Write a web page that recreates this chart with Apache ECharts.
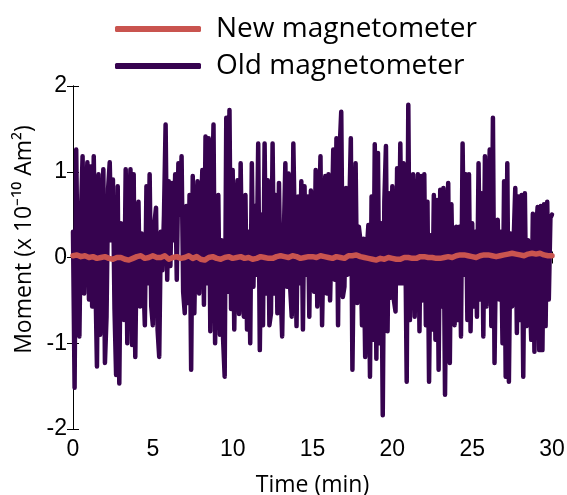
<!DOCTYPE html>
<html>
<head>
<meta charset="utf-8">
<script src="https://cdn.jsdelivr.net/npm/echarts@6/dist/echarts.min.js"></script>
<style>
  html, body { margin: 0; padding: 0; background: #fff; }
  #chart { width: 567px; height: 495px; }
</style>
</head>
<body>
<div id="chart"></div>
<script>
// old magnetometer, one sample every 0.1 min in 5 min pieces
const old0to5 = [0.3, -1.52, 1.26, -0.3, -0.92, 0.5, 1.18, -0.42, 0.6, 1.11,
  -0.49, 1.06, -0.57, 1.18, -0.2, -1.27, 0.97, -0.9, 0.3, 1.03,
  -1.23, -0.69, 0.8, 1.11, 0.2, 0.91, -0.6, -1.37, 0.83, -1.47,
  0.4, -0.3, -0.73, 1.03, -1.0, 0.5, 1.03, -1.02, 0.97, -1.16,
  0.3, 0.65, -0.57, 0.28, -0.2, -0.79, 0.83, -0.3, 0.97, -0.57]
const old5to10 = [-0.79, 0.4, 0.58, -0.85, -1.16, 0.3, -0.15, 0.5, 1.55, -0.26,
  0.89, -0.1, 0.87, 0.2, 0.97, -0.26, 1.1, 0.5, 1.18, -0.4,
  -0.65, 0.6, -0.53, 0.73, -1.31, 0.95, -0.65, 0.5, 0.89, -0.42,
  0.4, 1.02, -0.55, 1.41, -0.3, 1.39, -0.86, 0.6, 1.55, -1.0,
  0.2, 0.73, -0.9, 0.2, -0.95, -1.39, 1.63, -0.4, 1.72, -0.6]
const old10to15 = [1.02, -0.84, 0.5, 0.9, -0.66, 1.1, -0.3, -0.69, 0.73, -0.84,
  0.3, -1.0, 1.1, -0.34, 0.6, -0.2, 1.33, -1.08, 0.5, -0.79,
  1.33, -0.42, 0.9, -0.79, -0.65, 1.33, -0.42, 0.73, -0.65, 0.87,
  -0.35, -0.92, 0.2, 1.1, -0.34, 0.98, -0.34, -0.69, 1.33, 0.2,
  -0.8, 0.71, -0.3, 0.89, -0.84, 0.83, -0.2, 0.71, -0.69, 0.78]
const old15to20 = [0.5, -0.4, 1.02, -0.57, 0.4, 1.18, -0.79, 0.3, 0.95, -0.42,
  0.97, -0.5, 0.3, 1.26, -0.26, 1.39, -0.79, 1.26, 1.7, -0.46,
  -0.34, 0.81, -0.2, 0.5, 1.39, -1.31, 0.3, 1.1, -0.53, 0.36,
  0.2, -0.79, 0.22, -1.16, 0.07, 0.38, -1.39, 0.71, -0.96, 1.32,
  -1.18, 1.22, -1.0, 0.4, -1.84, 0.65, 1.3, -0.86, 0.75, -0.47]
const old20to25 = [0.83, -0.5, -0.63, 1.04, -0.3, 1.33, -0.3, 1.1, 0.5, -1.45,
  1.78, -0.73, 0.2, 0.97, -0.69, 0.5, 0.97, -0.86, 0.95, -0.5,
  0.97, -0.79, 0.65, -1.45, 0.26, -0.84, 0.73, -0.96, 0.67, -1.31,
  0.79, -0.57, 0.81, -1.6, 0.3, 0.87, -1.23, 0.62, -0.5, -0.79,
  0.36, -0.73, 0.36, -0.92, 1.33, -0.2, 0.97, -0.73, 0.97, -0.86]
const old25to30 = [0.4, -0.57, 0.3, -0.69, 1.1, -0.49, 0.75, -0.92, 1.18, -0.57,
  0.5, 1.26, -0.8, 1.63, -1.23, 0.2, 0.44, -0.49, 0.3, -1.0,
  0.89, -1.39, 1.1, -1.45, 0.28, -0.57, 0.2, 0.81, -0.88, 0.71,
  -0.73, 0.73, -1.39, 0.75, -0.8, 0.2, 0.21, -0.96, 0.51, -1.1,
  0.3, 0.59, -1.08, 0.6, -1.08, 0.62, -0.8, 0.65, -0.49, 0.46, 0.5]

// new magnetometer, one sample every 0.25 min
const newValues = [0.02, 0.03, 0.01, 0.02, 0.0, 0.01, -0.01, 0.0, 0.01, -0.01,
  -0.02, 0.0, 0.0, -0.02, -0.03, -0.01, 0.01, 0.02, -0.01, 0.0,
  0.02, 0.0, 0.0, 0.02, -0.02, 0.0, 0.01, -0.01, 0.0, 0.02,
  -0.01, 0.01, -0.02, -0.03, 0.0, 0.01, -0.01, -0.02, 0.0, 0.01,
  -0.01, 0.0, 0.01, -0.01, 0.0, -0.02, -0.01, 0.01, 0.0, -0.01,
  -0.01, 0.01, 0.02, 0.01, 0.0, 0.02, 0.01, -0.01, 0.0, 0.01,
  0.01, 0.0, 0.02, 0.01, 0.0, -0.01, 0.01, 0.0, -0.01, 0.02,
  0.02, 0.03, 0.01, 0.0, -0.01, -0.02, -0.03, -0.01, -0.02, 0.0,
  -0.01, -0.02, -0.02, 0.0, 0.0, -0.01, -0.01, 0.01, 0.01, 0.0,
  0.0, -0.01, -0.01, 0.0, 0.01, 0.0, 0.02, 0.03, 0.03, 0.02,
  0.01, 0.0, 0.02, 0.03, 0.03, 0.02, 0.01, 0.02, 0.03, 0.04,
  0.05, 0.04, 0.03, 0.02, 0.04, 0.05, 0.04, 0.05, 0.03, 0.02, 0.02]

const oldStep = 0.1
const newStep = 0.25
const xTicks = [0, 5, 10, 15, 20, 25, 30]
const yTicks = [-2, -1, 0, 1, 2]

const oldValues = old0to5.concat(old5to10, old10to15, old15to20, old20to25, old25to30)
const oldData = oldValues.map((v, i) => [+(i * oldStep).toFixed(2), v])
const newData = newValues.map((v, i) => [+(i * newStep).toFixed(2), v])

const tickFont = { color: '#000', fontSize: 23, fontFamily: 'Liberation Sans' }
const nameFont = { color: '#000', fontSize: 23, fontFamily: 'Open Sans' }

let chart = echarts.init(document.getElementById('chart'))

chart.setOption({
  animation: false,
  legend: {
    orient: 'vertical',
    left: 110,
    top: 8,
    icon: 'roundRect',
    itemWidth: 86,
    itemHeight: 6,
    itemGap: 5,
    data: ['New magnetometer', 'Old magnetometer'],
    textStyle: { color: '#000', fontSize: 28, fontFamily: 'Open Sans', lineHeight: 32, padding: [0, 0, 0, 10] }
  },
  grid: { left: 73, right: 15, top: 86, bottom: 66, outerBoundsMode: 'none', containLabel: false },
  xAxis: [
    {
      type: 'value',
      min: xTicks[0],
      max: xTicks[xTicks.length - 1],
      interval: 5,
      name: 'Time (min)',
      nameLocation: 'middle',
      nameGap: 45,
      nameTextStyle: nameFont,
      axisLine: { lineStyle: { color: '#000', width: 1 } },
      axisTick: { inside: true, length: 6, lineStyle: { color: '#000' } },
      axisLabel: Object.assign({ margin: 9 }, tickFont),
      splitLine: { show: false }
    },
    {
      type: 'value',
      position: 'top',
      min: xTicks[0],
      max: xTicks[xTicks.length - 1],
      interval: 5,
      axisLine: { show: true, lineStyle: { color: '#000', width: 1 } },
      axisTick: { inside: true, length: 6, lineStyle: { color: '#000' } },
      axisLabel: { show: false },
      splitLine: { show: false }
    }
  ],
  yAxis: [
    {
      type: 'value',
      min: yTicks[0],
      max: yTicks[yTicks.length - 1],
      interval: 1,
      name: 'Moment (x 10⁻¹⁰ Am²)',
      nameLocation: 'middle',
      nameGap: 34,
      nameTextStyle: Object.assign({ padding: [0, 0, 0, 36] }, nameFont),
      axisLine: { show: true, lineStyle: { color: '#000', width: 1 } },
      axisTick: { inside: true, length: 6, lineStyle: { color: '#000' } },
      axisLabel: Object.assign({ margin: 6 }, tickFont),
      splitLine: { show: false }
    },
    {
      type: 'value',
      position: 'right',
      min: yTicks[0],
      max: yTicks[yTicks.length - 1],
      interval: 1,
      axisLine: { show: true, lineStyle: { color: '#000', width: 1 } },
      axisTick: { inside: true, length: 6, lineStyle: { color: '#000' } },
      axisLabel: { show: false },
      splitLine: { show: false }
    }
  ],
  series: [
    {
      name: 'Old magnetometer',
      type: 'line',
      data: oldData,
      showSymbol: false,
      symbol: 'none',
      lineStyle: { color: '#36034f', width: 4.5, join: 'round', cap: 'round' },
      itemStyle: { color: '#36034f' },
      z: 2
    },
    {
      name: 'New magnetometer',
      type: 'line',
      data: newData,
      showSymbol: false,
      symbol: 'none',
      lineStyle: { color: '#c9544f', width: 5.5, join: 'round', cap: 'round' },
      itemStyle: { color: '#c9544f' },
      z: 3
    }
  ]
})
</script>
</body>
</html>
